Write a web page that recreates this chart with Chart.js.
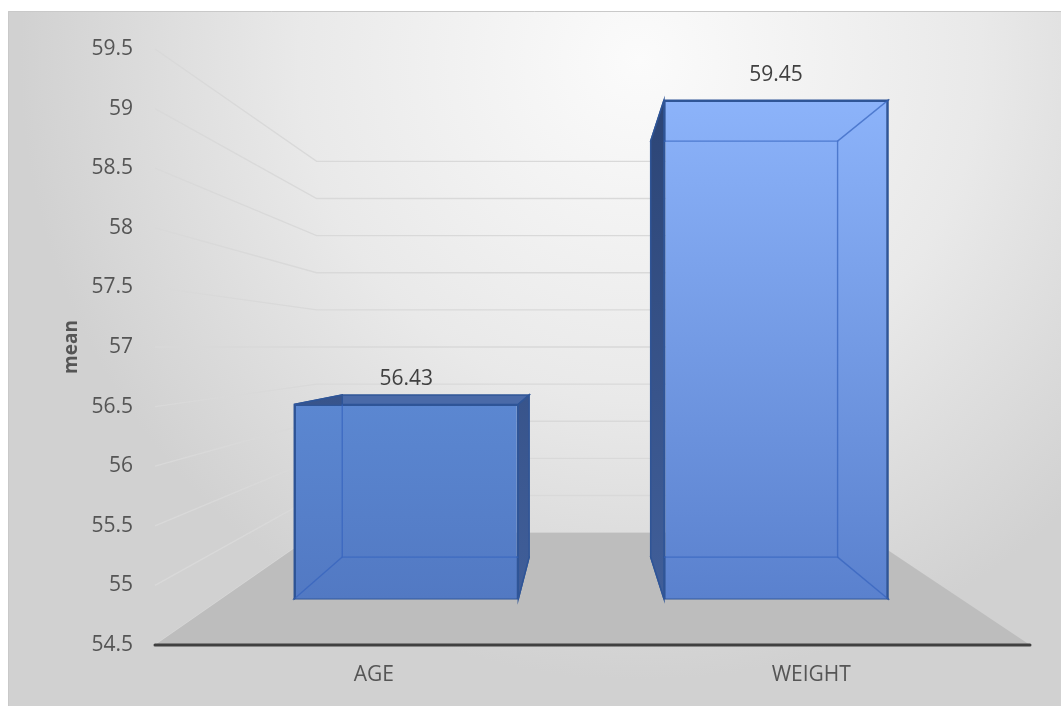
<!DOCTYPE html>
<html>
<head>
<meta charset="utf-8">
<title>mean</title>
<script src="https://cdn.jsdelivr.net/npm/chart.js@4.4.1/dist/chart.umd.min.js"></script>
<style>
  html, body { margin: 0; padding: 0; background: #fff; }
  canvas { display: block; }
</style>
</head>
<body>
<canvas id="mean-chart" width="1061" height="706"></canvas>
<script>
// values
const categories = ['AGE', 'WEIGHT'];
const means = [56.43, 59.45];
const yTicks = [54.5, 55, 55.5, 56, 56.5, 57, 57.5, 58, 58.5, 59, 59.5];
const floorValue = 54.5;

// shading per bar (top colour, bottom colour)
const barShades = [['#5b87d1', '#5279c3'], ['#8cb3fa', '#5a81ce']];

// depth layers, as a shrink factor toward the vanishing point
const FRONT = 0.845;  // front face of the bars
const BACK = 0.705;   // back face of the bars
const WALL = 0.623;   // back wall / end of the floor

function vanishing(area) {
  return { x: area.left + area.width * 0.49, y: (area.top + area.bottom) / 2 };
}
function project(vp, k, x, y) {
  return [vp.x + (x - vp.x) * k, vp.y + (y - vp.y) * k];
}
function poly(ctx, pts) {
  ctx.beginPath();
  ctx.moveTo(pts[0][0], pts[0][1]);
  for (let i = 1; i < pts.length; i++) ctx.lineTo(pts[i][0], pts[i][1]);
  ctx.closePath();
}
function cube(el, vp) {
  const {x, y, base, width} = el.getProps(['x', 'y', 'base', 'width'], true);
  const l = x - width / 2, r = x + width / 2;
  const corners = k => ({
    tl: project(vp, k, l, y), tr: project(vp, k, r, y),
    br: project(vp, k, r, base), bl: project(vp, k, l, base)
  });
  return { f: corners(FRONT), b: corners(BACK) };
}

const room = {
  id: 'room',
  beforeDraw(chart) {
    const {ctx, width, height} = chart;
    ctx.save();
    const g = ctx.createRadialGradient(640, 60, 0, 640, 60, 620);
    g.addColorStop(0, '#fbfbfb');
    g.addColorStop(0.55, '#e9e9e9');
    g.addColorStop(1, '#d1d1d1');
    ctx.fillStyle = g;
    ctx.fillRect(8, 11, width - 8, height - 11);
    ctx.strokeStyle = '#c9c9c9';
    ctx.lineWidth = 1;
    ctx.beginPath();
    ctx.moveTo(8.5, height);
    ctx.lineTo(8.5, 11.5);
    ctx.lineTo(width, 11.5);
    ctx.stroke();
    ctx.restore();
  },
  beforeDatasetsDraw(chart) {
    const {ctx, chartArea: a, scales: {y}} = chart;
    const vp = vanishing(a);
    ctx.save();
    // side wall and back wall grid lines
    ctx.strokeStyle = '#d9d9d9';
    ctx.lineWidth = 1.3;
    yTicks.forEach(v => {
      const py = y.getPixelForValue(v);
      const [bx, by] = project(vp, WALL, a.left, py);
      const [ex] = project(vp, WALL, a.right, py);
      ctx.beginPath();
      ctx.moveTo(a.left, py);
      ctx.lineTo(bx, by);
      ctx.lineTo(ex, by);
      ctx.stroke();
    });
    // floor
    const fy = y.getPixelForValue(floorValue);
    poly(ctx, [[a.left, fy], project(vp, WALL, a.left, fy), project(vp, WALL, a.right, fy), [a.right, fy]]);
    ctx.fillStyle = '#bdbdbd';
    ctx.fill();
    // front edge of the floor
    ctx.strokeStyle = '#404040';
    ctx.lineWidth = 3;
    ctx.lineCap = 'round';
    ctx.beginPath();
    ctx.moveTo(a.left, fy);
    ctx.lineTo(a.right, fy);
    ctx.stroke();
    ctx.restore();
  },
  beforeDatasetDraw(chart, args) {
    const {ctx, chartArea: a} = chart;
    const vp = vanishing(a);
    ctx.save();
    const side = ctx.createLinearGradient(0, a.top, 0, a.bottom);
    side.addColorStop(0, '#2a4272');
    side.addColorStop(1, '#42619d');
    args.meta.data.forEach(el => {
      const {f, b} = cube(el, vp);
      const faces = [
        [[f.tl, f.tr, b.tr, b.tl], '#4a6aa8'],
        [[f.bl, f.br, b.br, b.bl], '#4a6aa8'],
        [[f.tl, f.bl, b.bl, b.tl], side],
        [[f.tr, f.br, b.br, b.tr], side]
      ];
      faces.forEach(([pts, fill]) => {
        poly(ctx, pts);
        ctx.fillStyle = fill;
        ctx.fill();
        ctx.strokeStyle = '#2f5597';
        ctx.lineWidth = 1.5;
        ctx.stroke();
      });
    });
    ctx.restore();
    // the bars themselves are drawn by Chart.js on the front plane
    ctx.save();
    ctx.translate(vp.x, vp.y);
    ctx.scale(FRONT, FRONT);
    ctx.translate(-vp.x, -vp.y);
  },
  afterDatasetDraw(chart, args) {
    const {ctx, chartArea: a} = chart;
    ctx.restore();
    const vp = vanishing(a);
    args.meta.data.forEach(el => {
      const {f, b} = cube(el, vp);
      ctx.save();
      poly(ctx, [f.tl, f.tr, f.br, f.bl]);
      ctx.clip();
      ctx.strokeStyle = 'rgba(52, 98, 190, 0.7)';
      ctx.lineWidth = 1.4;
      poly(ctx, [b.tl, b.tr, b.br, b.bl]);
      ctx.stroke();
      ['tl', 'tr', 'br', 'bl'].forEach(c => {
        ctx.beginPath();
        ctx.moveTo(f[c][0], f[c][1]);
        ctx.lineTo(b[c][0], b[c][1]);
        ctx.stroke();
      });
      ctx.restore();
    });
  },
  afterDatasetsDraw(chart) {
    const {ctx, chartArea: a} = chart;
    const vp = vanishing(a);
    const meta = chart.getDatasetMeta(0);
    ctx.save();
    ctx.fillStyle = '#404040';
    ctx.font = '21px "Open Sans"';
    ctx.textAlign = 'center';
    ctx.textBaseline = 'middle';
    meta.data.forEach((el, i) => {
      const {x, y} = el.getProps(['x', 'y'], true);
      const [lx, ly] = project(vp, FRONT, x, y);
      ctx.fillText(means[i].toFixed(2), lx, ly - 25);
    });
    ctx.restore();
  }
};

function barFill(context) {
  const chart = context.chart;
  const shade = barShades[context.dataIndex] || barShades[0];
  if (!chart.chartArea) return shade[1];
  const y = chart.scales.y;
  const g = chart.ctx.createLinearGradient(0, y.getPixelForValue(means[context.dataIndex]), 0, y.getPixelForValue(floorValue));
  g.addColorStop(0, shade[0]);
  g.addColorStop(1, shade[1]);
  return g;
}

Chart.defaults.font.family = '"Open Sans", sans-serif';

new Chart(document.getElementById('mean-chart'), {
  type: 'bar',
  data: {
    labels: categories,
    datasets: [{
      data: means,
      base: floorValue,
      backgroundColor: barFill,
      borderColor: '#2f5597',
      borderWidth: 2,
      barPercentage: 0.606,
      categoryPercentage: 1,
      clip: false
    }]
  },
  options: {
    responsive: false,
    animation: false,
    layout: { padding: { left: 8, top: 49, right: 31, bottom: 11 } },
    plugins: { legend: { display: false }, tooltip: { enabled: false } },
    scales: {
      x: {
        grid: { display: false, drawTicks: false },
        border: { display: false },
        ticks: { color: '#555555', font: { size: 21 }, padding: 17 },
        afterFit(s) { s.height = 50; }
      },
      y: {
        min: 54.5,
        max: 59.5,
        grid: { display: false, drawTicks: false },
        border: { display: false },
        afterBuildTicks(s) { s.ticks = yTicks.map(v => ({ value: v })); },
        ticks: { color: '#555555', font: { size: 21 }, padding: 22, callback: v => String(v) },
        title: {
          display: true,
          text: 'mean',
          color: '#555555',
          font: { size: 19, weight: 'bold' },
          padding: { top: 52 }
        },
        afterFit(s) { s.width = 147; }
      }
    }
  },
  plugins: [room]
});
</script>
</body>
</html>
